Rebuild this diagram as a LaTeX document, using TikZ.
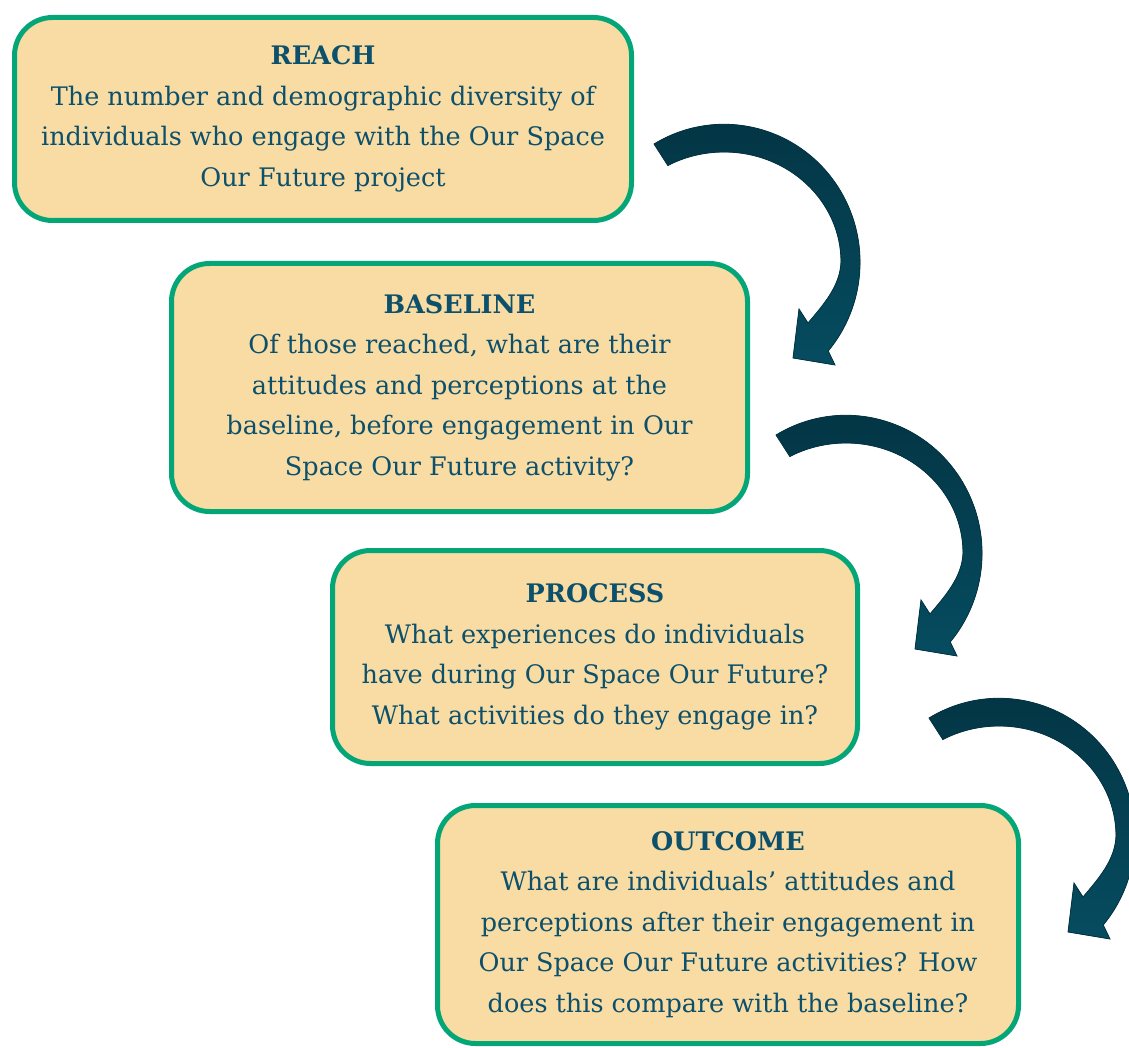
\documentclass[tikz,border=0pt]{standalone}
\usepackage{fontspec}
\setmainfont{DejaVu Serif}

\definecolor{stageline}{RGB}{4,166,120}
\definecolor{stagefill}{RGB}{249,220,163}
\definecolor{stagetext}{RGB}{12,80,108}
\definecolor{bendtop}{RGB}{3,52,67}
\definecolor{bendbot}{RGB}{6,76,96}

\begin{document}
\begin{tikzpicture}[x=1pt,y=-1pt,
    stage/.style={draw=stageline, line width=5pt, fill=stagefill,
      rounded corners=38pt, text=stagetext, align=center, inner sep=0pt,
      font=\fontsize{25.5}{40.5}\selectfont},
    curvedarrow/.style={top color=bendtop, bottom color=bendbot,
      draw=bendtop, line width=0.8pt}]
    \useasboundingbox (0,0) rectangle (1129,1048);

    \coordinate (ReachC)    at (323,119);
    \coordinate (BaselineC) at (459.5,387.5);
    \coordinate (ProcessC)  at (595,657);
    \coordinate (OutcomeC)  at (728,924.5);

    \node[stage, minimum width=617pt, minimum height=203pt] (reach) at (ReachC)
      {\textbf{REACH}\\The number and demographic diversity of\\
       individuals who engage with the Our Space\\Our Future project};
    \node[stage, minimum width=576pt, minimum height=248pt] (baseline) at (BaselineC)
      {\textbf{BASELINE}\\Of those reached, what are their\\
       attitudes and perceptions at the\\baseline, before engagement in Our\\
       Space Our Future activity?};
    \node[stage, minimum width=525pt, minimum height=213pt] (process) at (ProcessC)
      {\textbf{PROCESS}\\What experiences do individuals\\
       have during Our Space Our Future?\\What activities do they engage in?};
    \node[stage, minimum width=581pt, minimum height=238pt] (outcome) at (OutcomeC)
      {\textbf{OUTCOME}\\What are individuals’ attitudes and\\
       perceptions after their engagement in\\Our Space Our Future activities? How\\
       does this compare with the baseline?};

    % curved arrows between the stages, one shape shifted three times
    \foreach \ax/\ay in {654/144, 776/435, 929/718}{%
      \filldraw[curvedarrow, shift={(\ax,\ay)}]
        (0,0) arc[start angle=-121, end angle=40, x radius=136, y radius=138]
        -- (181,221) -- (139,214) -- (145,165) -- (154,179)
        .. controls (170,160) and (186,142) .. (187,118)
        arc[start angle=0, end angle=-118.7, x radius=117, y radius=110]
        -- cycle;
    }
\end{tikzpicture}
\end{document}
